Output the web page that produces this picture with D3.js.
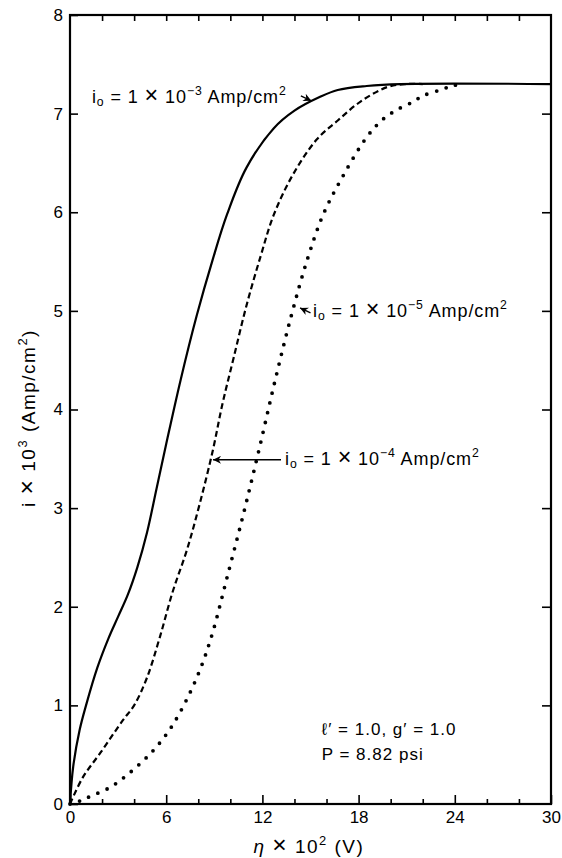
<!DOCTYPE html>
<html>
<head>
<meta charset="utf-8">
<script src="https://cdn.jsdelivr.net/npm/d3@7"></script>
<style>
  body { margin: 0; background: #fff; }
  text { font-family: "Liberation Sans", Arial, sans-serif; fill: #000; }
</style>
</head>
<body>
<script>
// i0 = 1e-3 (solid)
const curve3 = [[0,0],[0.2,0.38],[0.6,0.75],[1,1.0],[1.7,1.38],[2.4,1.68],[3,1.9],[3.6,2.12],
  [4.2,2.4],[4.8,2.75],[5.4,3.2],[6,3.65],[6.9,4.3],[7.9,4.95],[8.9,5.52],[9.8,5.98],
  [11,6.45],[12.7,6.85],[14,7.03],[15.6,7.17],[16.7,7.24],[18.5,7.28],[20.6,7.3],[30,7.3]];
// i0 = 1e-4 (dashed)
const curve4 = [[0,0],[0.8,0.27],[1.9,0.52],[3.3,0.85],[4.0,1.0],[4.8,1.28],[5.6,1.69],
  [6.4,2.15],[7.3,2.58],[8.1,3.05],[8.9,3.58],[9.5,4.05],[10.2,4.52],[11,5.05],[11.9,5.56],
  [12.7,5.97],[13.9,6.38],[15.4,6.74],[16.7,6.93],[18.1,7.12],[19.8,7.27],[21,7.3],[22,7.3]];
// i0 = 1e-5 (dotted)
const curve5 = [[0,0],[0.6,0.03],[1.3,0.08],[2.4,0.16],[3.3,0.26],[4.7,0.46],[5.5,0.6],
  [6.4,0.8],[7.4,1.1],[8.2,1.4],[8.9,1.74],[9.8,2.3],[10.8,2.93],[11.8,3.6],[12.8,4.3],
  [13.8,4.95],[14.8,5.52],[15.8,5.98],[17,6.36],[18.5,6.76],[19.5,6.94],[20.4,7.04],
  [21.4,7.12],[22,7.18],[23.1,7.24],[23.8,7.28],[24.5,7.3]];

const xMajor = [0, 6, 12, 18, 24, 30];
const xMinor = [2, 4, 8, 10, 14, 16, 20, 22, 26, 28];
const xTop = [2, 4, 6, 8, 10, 12, 14, 16, 18, 20, 22, 24, 26, 28];
const yTicks = [0, 1, 2, 3, 4, 5, 6, 7, 8];
const yRight = [1, 2, 3, 4, 5, 6, 7];

const width = 562, height = 858;
const margin = {top: 15, right: 11, bottom: 54, left: 70};
const w = width - margin.left - margin.right;
const h = height - margin.top - margin.bottom;

const svg = d3.select("body").append("svg")
  .attr("width", width)
  .attr("height", height);

const g = svg.append("g")
  .attr("transform", `translate(${margin.left}, ${margin.top})`);

const x = d3.scaleLinear().domain([0, 30]).range([0, w]);
const y = d3.scaleLinear().domain([0, 8]).range([h, 0]);

function styleAxis(sel) {
  sel.select(".domain").remove();
  sel.selectAll(".tick line").attr("stroke", "#000").attr("stroke-width", 1.6);
  sel.selectAll(".tick text").attr("font-size", "17px")
    .attr("font-family", '"Liberation Sans", Arial, sans-serif').attr("fill", "#000");
}

g.append("g").attr("transform", `translate(0, ${h})`)
  .call(d3.axisBottom(x).tickValues(xMajor).tickSizeInner(-9).tickSizeOuter(0).tickPadding(7))
  .call(styleAxis);
g.append("g").attr("transform", `translate(0, ${h})`)
  .call(d3.axisBottom(x).tickValues(xMinor).tickSizeInner(-5).tickSizeOuter(0).tickFormat(""))
  .call(styleAxis);
g.append("g")
  .call(d3.axisTop(x).tickValues(xTop).tickSizeInner(-6).tickSizeOuter(0).tickFormat(""))
  .call(styleAxis);
g.append("g")
  .call(d3.axisLeft(y).tickValues(yTicks).tickSizeInner(-8).tickSizeOuter(0).tickPadding(7))
  .call(styleAxis);
g.append("g").attr("transform", `translate(${w}, 0)`)
  .call(d3.axisRight(y).tickValues(yRight).tickSizeInner(-9).tickSizeOuter(0).tickFormat(""))
  .call(styleAxis);

// frame
g.append("rect")
  .attr("x", 0).attr("y", 0).attr("width", w).attr("height", h)
  .attr("fill", "none").attr("stroke", "#000").attr("stroke-width", 2.2);

const line = d3.line()
  .x(d => x(d[0]))
  .y(d => y(d[1]))
  .curve(d3.curveCatmullRom.alpha(0.5));

g.append("path").datum(curve3)
  .attr("d", line).attr("fill", "none").attr("stroke", "#000").attr("stroke-width", 2.2);

g.append("path").datum(curve4)
  .attr("d", line).attr("fill", "none").attr("stroke", "#000").attr("stroke-width", 2.2)
  .attr("stroke-dasharray", "6 3.5");

g.append("path").datum(curve5)
  .attr("d", line).attr("fill", "none").attr("stroke", "#000").attr("stroke-width", 3.8)
  .attr("stroke-linecap", "round").attr("stroke-dasharray", "0 10");

// rich text helper: parts of [text, kind], kind = n | sup | sub | x (big times) | it
function richText(sel, parts, size) {
  let shift = 0;
  parts.forEach(([t, kind]) => {
    const target = kind === "sup" ? -0.42 * size : kind === "sub" ? 0.2 * size : 0;
    let fs = size;
    if (kind === "sup" || kind === "sub") fs = size * 0.68;
    if (kind === "x") fs = size * 1.3;
    const ts = sel.append("tspan")
      .attr("dy", target - shift)
      .attr("font-size", fs)
      .text(t);
    if (kind === "it") ts.attr("font-style", "italic");
    shift = target;
  });
}

function label(xv, yv, exp) {
  const t = g.append("text").attr("x", x(xv)).attr("y", y(yv)).attr("letter-spacing", 0.9);
  richText(t, [["i", "n"], ["o", "sub"], [" = 1 ", "n"], ["×", "x"], [" 10", "n"], [exp, "sup"],
    [" Amp/cm", "n"], ["2", "sup"]], 18);
}

label(1.37, 7.11, "−3");
label(15.16, 4.94, "−5");
label(13.41, 3.44, "−4");

svg.append("defs").append("marker")
  .attr("id", "head").attr("viewBox", "0 0 10 10")
  .attr("refX", 10).attr("refY", 5)
  .attr("markerWidth", 10).attr("markerHeight", 8)
  .attr("markerUnits", "userSpaceOnUse")
  .attr("orient", "auto")
  .append("path").attr("d", "M0,0 L10,5 L0,10 L3,5 Z").attr("fill", "#000");

function arrow(x1, y1, x2, y2) {
  g.append("line")
    .attr("x1", x(x1)).attr("y1", y(y1)).attr("x2", x(x2)).attr("y2", y(y2))
    .attr("stroke", "#000").attr("stroke-width", 1.4)
    .attr("marker-end", "url(#head)");
}
arrow(14.4, 7.18, 15.05, 7.13);
arrow(15.0, 4.98, 14.35, 5.03);
arrow(13.16, 3.49, 8.92, 3.49);

const params = g.append("g").attr("font-size", 17).attr("letter-spacing", 1);
params.append("text").attr("x", x(15.7)).attr("y", y(0.70)).text("ℓ′ = 1.0, g′ = 1.0");
params.append("text").attr("x", x(15.7)).attr("y", y(0.45)).text("P = 8.82 psi");

// axis titles
const xt = svg.append("text")
  .attr("x", margin.left + x(14.9)).attr("y", 853)
  .attr("text-anchor", "middle").attr("letter-spacing", 1.5);
richText(xt, [["η", "it"], [" ", "n"], ["×", "x"], [" 10", "n"], ["2", "sup"], [" (V)", "n"]], 19);

const yt = svg.append("text")
  .attr("transform", "translate(35, 418) rotate(-90)")
  .attr("text-anchor", "middle").attr("letter-spacing", 1.5);
richText(yt, [["i ", "n"], ["×", "x"], [" 10", "n"], ["3", "sup"], [" (Amp/cm", "n"], ["2", "sup"], [")", "n"]], 19);
</script>
</body>
</html>
